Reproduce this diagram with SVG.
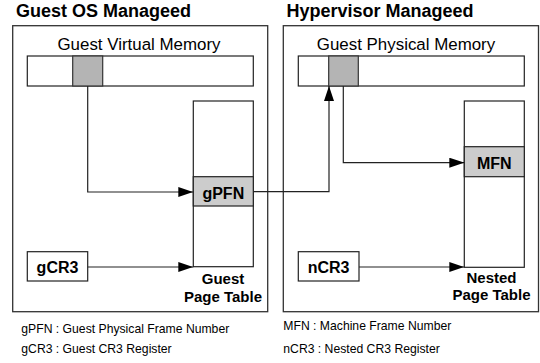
<svg xmlns="http://www.w3.org/2000/svg" width="540" height="363" viewBox="0 0 540 363">
<defs>
<marker id="ah" markerWidth="15" markerHeight="10" refX="15" refY="5" orient="auto" markerUnits="userSpaceOnUse">
<path d="M0,0 L15,5 L0,10 Z" fill="#000"/>
</marker>
<style>
.frame{fill:#fff;stroke:#333;stroke-width:1.3}
.box{fill:#fff;stroke:#222;stroke-width:1.2}
.cell{fill:#b4b4b4;stroke:#333;stroke-width:1.2}
.ecell{fill:#cccccc;stroke:#222;stroke-width:1.2}
.conn{fill:none;stroke:#222;stroke-width:1.2}
.title{font-family:"Liberation Sans",Arial,sans-serif;font-weight:bold;font-size:18px;fill:#000}
.mem{font-family:"Liberation Sans",Arial,sans-serif;font-size:16.9px;fill:#000;text-anchor:middle}
.lbl{font-family:"Liberation Sans",Arial,sans-serif;font-weight:bold;font-size:16px;fill:#000;text-anchor:middle}
.cap{font-family:"Liberation Sans",Arial,sans-serif;font-weight:bold;font-size:15px;fill:#000;text-anchor:middle}
.leg{font-family:"Liberation Sans",Arial,sans-serif;font-size:12.2px;fill:#000}
</style>
</defs>
<rect width="540" height="363" fill="#fff"/>
<g id="guest-os-region">
<text class="title" x="16" y="16.7">Guest OS Manageed</text>
<rect class="frame" x="12.7" y="25.7" width="255" height="286"/>
</g>
<g id="hypervisor-region">
<text class="title" x="286.5" y="16.7">Hypervisor Manageed</text>
<rect class="frame" x="283.3" y="25.7" width="255.2" height="286"/>
</g>
<g id="guest-virtual-memory">
<text class="mem" x="139" y="50">Guest Virtual Memory</text>
<rect class="box" x="27.3" y="56" width="226" height="30"/>
<rect class="cell" x="72.7" y="56" width="30" height="30"/>
</g>
<g id="guest-physical-memory">
<text class="mem" x="406" y="50">Guest Physical Memory</text>
<rect class="box" x="298.3" y="56" width="226" height="30"/>
<rect class="cell" x="328.7" y="56" width="29.6" height="30"/>
</g>
<g id="guest-page-table">
<rect class="box" x="193.3" y="101" width="60" height="165.7"/>
<rect class="ecell" x="193.3" y="176.7" width="60" height="29.3"/>
<text class="lbl" x="223.3" y="199">gPFN</text>
<text class="cap" x="223" y="284.3">Guest</text>
<text class="cap" x="223" y="301.5">Page Table</text>
</g>
<g id="nested-page-table">
<rect class="box" x="464.3" y="101" width="60" height="166.3"/>
<rect class="ecell" x="464.3" y="146.7" width="60" height="30"/>
<text class="lbl" x="494.3" y="168.5">MFN</text>
<text class="cap" x="491.5" y="282.5">Nested</text>
<text class="cap" x="491.5" y="299.7">Page Table</text>
</g>
<g id="gCR3">
<rect class="box" x="27.3" y="251.7" width="60.4" height="29.3"/>
<text class="lbl" x="57.5" y="273.3">gCR3</text>
</g>
<g id="nCR3">
<rect class="box" x="298.3" y="251.7" width="60.7" height="29.3"/>
<text class="lbl" x="328.6" y="273.3">nCR3</text>
</g>
<g id="connectors">
<polyline class="conn" points="87.7,86 87.7,192 193.3,192" marker-end="url(#ah)"/>
<polyline class="conn" points="87.7,267 193.3,267" marker-end="url(#ah)"/>
<polyline class="conn" points="253.3,191.7 329,191.7 329,86" marker-end="url(#ah)"/>
<polyline class="conn" points="343.3,86 343.3,162.7 464.3,162.7" marker-end="url(#ah)"/>
<polyline class="conn" points="359,267 464.3,267" marker-end="url(#ah)"/>
</g>
<g id="legend">
<text class="leg" x="21.3" y="333.3">gPFN : Guest Physical Frame Number</text>
<text class="leg" x="21.3" y="353.3">gCR3 : Guest CR3 Register</text>
<text class="leg" x="283.3" y="330">MFN : Machine Frame Number</text>
<text class="leg" x="283.3" y="353.3">nCR3 : Nested CR3 Register</text>
</g>
</svg>
